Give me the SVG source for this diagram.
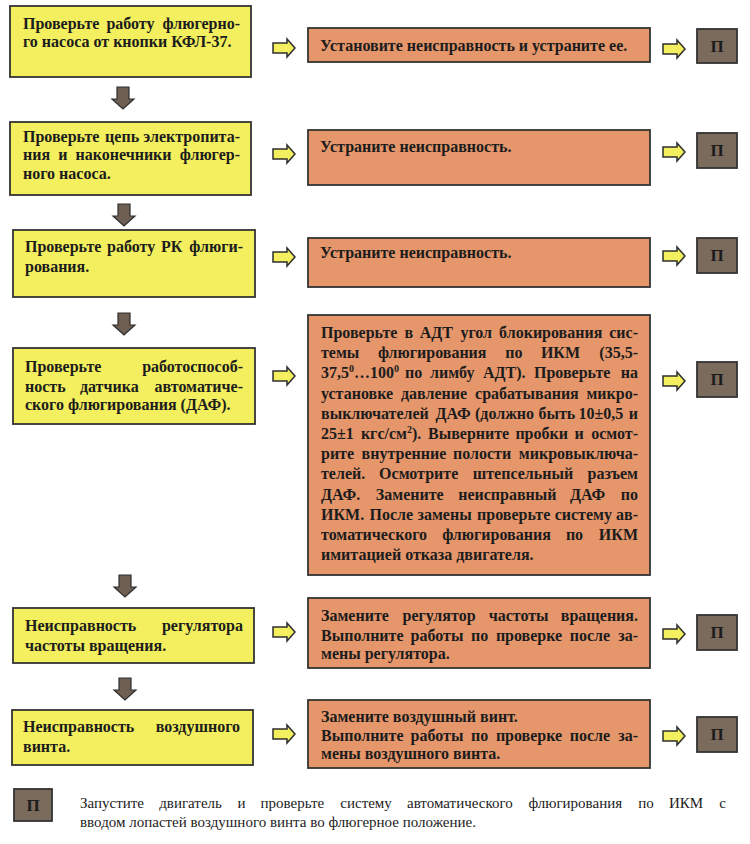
<svg xmlns="http://www.w3.org/2000/svg" xmlns:xlink="http://www.w3.org/1999/xlink" width="750" height="844" viewBox="0 0 750 844">
<defs>
<style>
.y{fill:#f3ef5e;stroke:#333;stroke-width:1.8}
.o{fill:#e5966b;stroke:#333;stroke-width:1.8}
.p{fill:#7b6b5c;stroke:#333;stroke-width:1.8}
.t{font-family:"Liberation Serif","DejaVu Serif",serif;font-weight:bold;font-size:16px;fill:#1c1c1c}
.e{text-anchor:end}
.pt{font-family:"Liberation Serif","DejaVu Serif",serif;font-weight:bold;font-size:17px;fill:#1c1c1c;text-anchor:middle}
.lt{font-family:"Liberation Serif","DejaVu Serif",serif;font-size:15px;fill:#1c1c1c}
.ra{fill:#f3ef5e;stroke:#2e2e2e;stroke-width:1.5;stroke-linejoin:miter}
.da{fill:#6e5f52;stroke:#2e2e2e;stroke-width:1.2}
</style>
<path id="rarrow" class="ra" d="M0,-5 L14,-5 L14,-9 L22,0 L14,9 L14,5 L0,5 Z"/>
<path id="darrow" class="da" d="M-6,0 L6,0 L6,12 L11,12 L0,22 L-11,12 L-6,12 Z"/>
</defs>

<g id="connectors">
<use xlink:href="#darrow" x="123" y="87"/>
<use xlink:href="#darrow" x="124" y="204"/>
<use xlink:href="#darrow" x="124" y="313"/>
<use xlink:href="#darrow" x="125" y="575"/>
<use xlink:href="#darrow" x="125" y="678"/>
<use xlink:href="#rarrow" x="273" y="48"/>
<use xlink:href="#rarrow" x="273" y="154"/>
<use xlink:href="#rarrow" x="273" y="257"/>
<use xlink:href="#rarrow" x="273" y="376"/>
<use xlink:href="#rarrow" x="273" y="632"/>
<use xlink:href="#rarrow" x="273" y="734"/>
<use xlink:href="#rarrow" x="663" y="49"/>
<use xlink:href="#rarrow" x="663" y="152"/>
<use xlink:href="#rarrow" x="663" y="256"/>
<use xlink:href="#rarrow" x="663" y="381"/>
<use xlink:href="#rarrow" x="663" y="634"/>
<use xlink:href="#rarrow" x="663" y="736"/>
</g>

<g id="check1">
<rect class="y" x="10" y="6" width="241" height="71"/>
<text class="t" y="28.5"><tspan x="23">Проверьте</tspan><tspan x="106.4">работу</tspan></text>
<text class="t e" x="240" y="28.5">флюгерно-</text>
<text class="t" x="23" y="47">го насоса от кнопки КФЛ-37.</text>
</g>

<g id="check2">
<rect class="y" x="10" y="122" width="241" height="73"/>
<text class="t" y="142"><tspan x="23">Проверьте</tspan><tspan x="105.1">цепь</tspan></text>
<text class="t e" x="240" y="142">электропита-</text>
<text class="t" y="160.3"><tspan x="23">ния</tspan><tspan x="58.2">и</tspan><tspan x="75.5">наконечники</tspan></text>
<text class="t e" x="240" y="160.3">флюгер-</text>
<text class="t" x="23" y="178.7">ного насоса.</text>
</g>

<g id="check3">
<rect class="y" x="13" y="230" width="242" height="67"/>
<text class="t" y="252"><tspan x="25">Проверьте</tspan><tspan x="107">работу</tspan><tspan x="161.1">РК</tspan></text>
<text class="t e" x="243" y="252">флюги-</text>
<text class="t" x="25" y="272">рования.</text>
</g>

<g id="check4">
<rect class="y" x="13" y="348" width="242" height="76"/>
<text class="t" x="25" y="372">Проверьте</text>
<text class="t e" x="243" y="372">работоспособ-</text>
<text class="t" y="391.5"><tspan x="25">ность</tspan><tspan x="79.9">датчика</tspan></text>
<text class="t e" x="243" y="391.5">автоматиче-</text>
<text class="t" x="25" y="410">ского флюгирования (ДАФ).</text>
</g>

<g id="check5">
<rect class="y" x="13" y="608" width="241" height="55"/>
<text class="t" x="25" y="630.5">Неисправность</text>
<text class="t e" x="243" y="630.5">регулятора</text>
<text class="t" x="25" y="651">частоты вращения.</text>
</g>

<g id="check6">
<rect class="y" x="12" y="710" width="241" height="55"/>
<text class="t" x="23" y="732">Неисправность</text>
<text class="t e" x="240" y="732">воздушного</text>
<text class="t" x="23" y="752">винта.</text>
</g>

<g id="fix1">
<rect class="o" x="308" y="28" width="342" height="34"/>
<text class="t" x="320" y="51">Установите неисправность и устраните ее.</text>
</g>

<g id="fix2">
<rect class="o" x="308" y="130" width="342" height="55"/>
<text class="t" x="320" y="152">Устраните неисправность.</text>
</g>

<g id="fix3">
<rect class="o" x="308" y="238" width="342" height="49"/>
<text class="t" x="320" y="258">Устраните неисправность.</text>
</g>

<g id="fix4">
<rect class="o" x="308" y="315" width="342" height="260"/>
<text class="t" y="338"><tspan x="321">Проверьте</tspan><tspan x="404.4">в</tspan><tspan x="419.7">АДТ</tspan><tspan x="460.4">угол</tspan><tspan x="499.1">блокирования</tspan></text>
<text class="t e" x="638" y="338">сис-</text>
<text class="t" y="358.2"><tspan x="321">темы</tspan><tspan x="377.9">флюгирования</tspan><tspan x="505.2">по</tspan><tspan x="540.9">ИКМ</tspan></text>
<text class="t e" x="638" y="358.2">(35,5-</text>
<text class="t" x="321" y="378.4">37,5<tspan font-size="10" dy="-6">0</tspan><tspan dy="6">…100</tspan><tspan font-size="10" dy="-6">0</tspan></text>
<text class="t" y="378.4"><tspan x="405">по</tspan><tspan x="430">лимбу</tspan><tspan x="483">АДТ).</tspan><tspan x="534">Проверьте</tspan></text>
<text class="t e" x="638" y="378.4">на</text>
<text class="t" y="398.6"><tspan x="321">установке</tspan><tspan x="400.9">давление</tspan><tspan x="475.1">срабатывания</tspan></text>
<text class="t e" x="638" y="398.6">микро-</text>
<text class="t" y="418.8"><tspan x="321">выключателей</tspan><tspan x="435.5">ДАФ</tspan><tspan x="475">(должно</tspan><tspan x="538.5">быть</tspan><tspan x="578.5">10±0,5</tspan></text>
<text class="t e" x="638" y="418.8">и</text>
<text class="t" x="321" y="439">25±1</text>
<text class="t" x="360.9" y="439">кгс/см<tspan font-size="10" dy="-6">2</tspan><tspan dy="6">).</tspan></text>
<text class="t" y="439"><tspan x="428">Выверните</tspan><tspan x="515.4">пробки</tspan><tspan x="574.6">и</tspan></text>
<text class="t e" x="638" y="439">осмот-</text>
<text class="t" y="459.2"><tspan x="321">рите</tspan><tspan x="361.6">внутренние</tspan><tspan x="453">полости</tspan></text>
<text class="t e" x="638" y="459.2">микровыключа-</text>
<text class="t" y="479.4"><tspan x="321">телей.</tspan><tspan x="379.1">Осмотрите</tspan><tspan x="472.7">штепсельный</tspan></text>
<text class="t e" x="638" y="479.4">разъем</text>
<text class="t" y="499.6"><tspan x="321">ДАФ.</tspan><tspan x="375.8">Замените</tspan><tspan x="458.2">неисправный</tspan><tspan x="569.9">ДАФ</tspan></text>
<text class="t e" x="638" y="499.6">по</text>
<text class="t" y="519.8"><tspan x="321">ИКМ.</tspan><tspan x="369.5">После</tspan><tspan x="417.5">замены</tspan><tspan x="477.1">проверьте</tspan><tspan x="554.7">систему</tspan></text>
<text class="t e" x="638" y="519.8">ав-</text>
<text class="t" y="540"><tspan x="321">томатического</tspan><tspan x="442.2">флюгирования</tspan><tspan x="565.9">по</tspan></text>
<text class="t e" x="638" y="540">ИКМ</text>
<text class="t" x="321" y="560.2">имитацией отказа двигателя.</text>
</g>

<g id="fix5">
<rect class="o" x="308" y="598" width="342" height="70"/>
<text class="t" y="620.5"><tspan x="321">Замените</tspan><tspan x="402.5">регулятор</tspan><tspan x="488.7">частоты</tspan></text>
<text class="t e" x="638" y="620.5">вращения.</text>
<text class="t" y="640.5"><tspan x="321">Выполните</tspan><tspan x="410.6">работы</tspan><tspan x="471.1">по</tspan><tspan x="495.9">проверке</tspan><tspan x="569.8">после</tspan></text>
<text class="t e" x="638" y="640.5">за-</text>
<text class="t" x="321" y="659">мены регулятора.</text>
</g>

<g id="fix6">
<rect class="o" x="308" y="700" width="342" height="68"/>
<text class="t" x="321" y="722">Замените воздушный винт.</text>
<text class="t" y="740.5"><tspan x="321">Выполните</tspan><tspan x="410.6">работы</tspan><tspan x="471.1">по</tspan><tspan x="495.9">проверке</tspan><tspan x="569.8">после</tspan></text>
<text class="t e" x="638" y="740.5">за-</text>
<text class="t" x="321" y="759">мены воздушного винта.</text>
</g>

<g id="p1"><rect class="p" x="697" y="29" width="40" height="34"/><text class="pt" x="717" y="52">П</text></g>
<g id="p2"><rect class="p" x="697" y="133" width="40" height="35"/><text class="pt" x="717" y="156">П</text></g>
<g id="p3"><rect class="p" x="697" y="238" width="40" height="35"/><text class="pt" x="717" y="261">П</text></g>
<g id="p4"><rect class="p" x="697" y="362" width="40" height="35"/><text class="pt" x="717" y="385">П</text></g>
<g id="p5"><rect class="p" x="697" y="615" width="40" height="35"/><text class="pt" x="717" y="638">П</text></g>
<g id="p6"><rect class="p" x="697" y="717" width="40" height="35"/><text class="pt" x="717" y="740">П</text></g>

<g id="legend">
<rect class="p" x="14" y="789" width="38" height="32"/>
<text class="pt" x="33" y="811">П</text>
<text class="lt" y="808"><tspan x="80">Запустите</tspan><tspan x="159.2">двигатель</tspan><tspan x="237.5">и</tspan><tspan x="260.6">проверьте</tspan><tspan x="340.3">систему</tspan><tspan x="407">автоматического</tspan><tspan x="528.4">флюгирования</tspan><tspan x="638.3">по</tspan><tspan x="668.9">ИКМ</tspan></text>
<text class="lt e" x="726" y="808">с</text>
<text class="lt" x="80" y="827">вводом лопастей воздушного винта во флюгерное положение.</text>
</g>
</svg>
